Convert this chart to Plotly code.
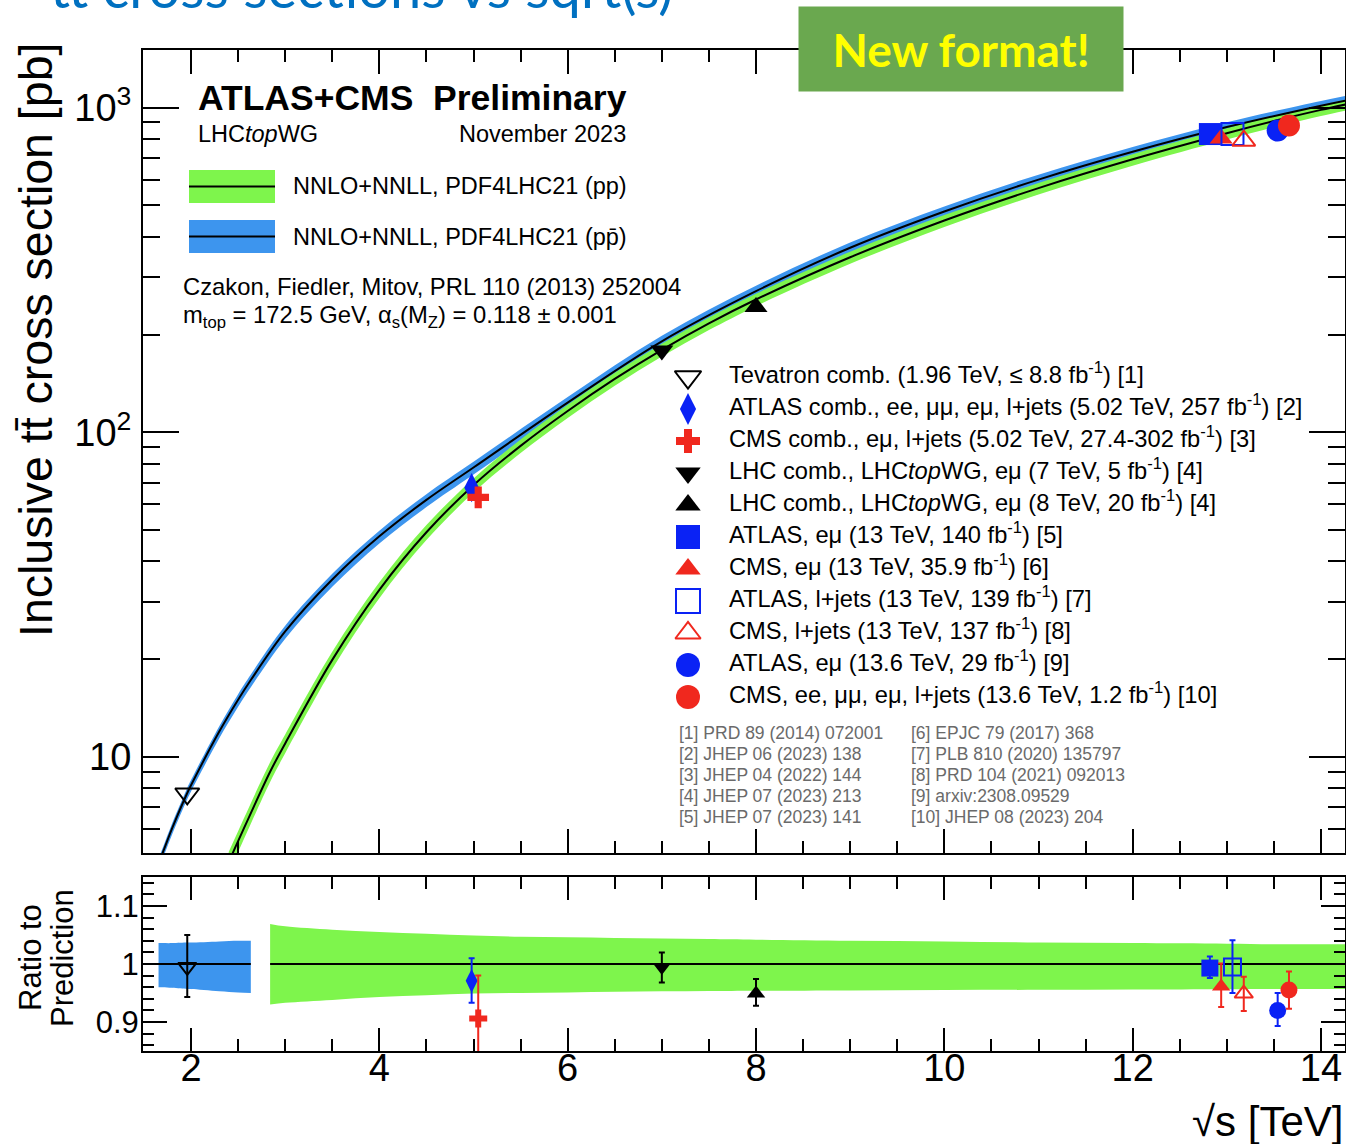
import plotly.graph_objects as go

W, H = 1346, 1144
def X(px): return px / W
def Y(py): return 1 - py / H

FONT = "Liberation Sans, Arial, Helvetica, sans-serif"
GREEN = "#7ef54c"
BLUE_BAND = "#3d95ee"
BLUE = "#0a22f5"
RED = "#f0281e"
BLACK = "#000000"

# ---------------- theory (NNLO+NNLL) ----------------
pp_sqrts = [2.4, 2.5, 2.84, 3.0, 3.5, 4.0, 4.5, 5.0, 5.5, 6.0, 6.5, 7.0, 7.5, 8.0,
            9.0, 10.0, 11.0, 12.0, 13.0, 13.6, 14.0, 14.3]
pp_sigma = [4.74, 5.5, 9.0, 11.0, 19.9, 32.7, 49.2, 68.7, 90.8, 116.3, 146.0, 179.5,
            216.5, 256.4, 346, 449, 565, 693, 834, 924, 984, 1028]
pp_rel_up = [1.075, 1.073, 1.069, 1.065, 1.059, 1.055, 1.052, 1.049, 1.047, 1.046, 1.045,
             1.044, 1.043, 1.042, 1.040, 1.039, 1.037, 1.036, 1.035, 1.034, 1.034, 1.034]
pp_rel_dn = [0.922, 0.925, 0.930, 0.933, 0.938, 0.943, 0.946, 0.949, 0.950, 0.951, 0.952,
             0.953, 0.9535, 0.954, 0.9545, 0.955, 0.9555, 0.956, 0.9565, 0.957, 0.957, 0.957]

ppbar_sqrts = [1.655, 1.7, 1.8, 1.96, 2.0, 2.3, 2.5, 2.635, 3.0, 3.5, 4.0, 4.5, 5.0, 6.0,
               7.0, 8.0, 9.0, 10.0, 11.0, 12.0, 13.0, 14.0, 14.3]
ppbar_sigma = [4.70, 5.07, 6.03, 7.74, 8.18, 11.97, 15.0, 17.25, 24.35, 35.2, 47.8, 61.9, 77.9,
               123.4, 190.6, 272, 370, 478.6, 600, 731, 871, 1014, 1057]
ppbar_rel_up = [1.036, 1.036, 1.036, 1.037, 1.037, 1.039, 1.040, 1.040, 1.041, 1.041, 1.041,
                1.041, 1.041, 1.040, 1.040, 1.039, 1.038, 1.037, 1.036, 1.035, 1.035, 1.034, 1.034]
ppbar_rel_dn = [0.960, 0.960, 0.959, 0.957, 0.957, 0.953, 0.951, 0.950, 0.949, 0.949, 0.950,
                0.950, 0.951, 0.952, 0.953, 0.954, 0.955, 0.955, 0.956, 0.956, 0.957, 0.957, 0.957]
ppbar_ratio_xmax = 2.635   # pp-bar band shown in ratio panel up to here
pp_ratio_xmin = 2.84       # pp band shown in ratio panel from here

# ---------------- measurements ----------------
meas_labels = [
    "Tevatron comb. (1.96 TeV, \u2264 8.8 fb<sup>-1</sup>) [1]",
    "ATLAS comb., ee, \u03bc\u03bc, e\u03bc, l+jets (5.02 TeV, 257 fb<sup>-1</sup>) [2]",
    "CMS comb., e\u03bc, l+jets (5.02 TeV, 27.4-302 fb<sup>-1</sup>) [3]",
    "LHC comb., LHC<i>top</i>WG, e\u03bc (7 TeV, 5 fb<sup>-1</sup>) [4]",
    "LHC comb., LHC<i>top</i>WG, e\u03bc (8 TeV, 20 fb<sup>-1</sup>) [4]",
    "ATLAS, e\u03bc (13 TeV, 140 fb<sup>-1</sup>) [5]",
    "CMS, e\u03bc (13 TeV, 35.9 fb<sup>-1</sup>) [6]",
    "ATLAS, l+jets (13 TeV, 139 fb<sup>-1</sup>) [7]",
    "CMS, l+jets (13 TeV, 137 fb<sup>-1</sup>) [8]",
    "ATLAS, e\u03bc (13.6 TeV, 29 fb<sup>-1</sup>) [9]",
    "CMS, ee, \u03bc\u03bc, e\u03bc, l+jets (13.6 TeV, 1.2 fb<sup>-1</sup>) [10]",
]
meas_sqrts = [1.96, 4.98, 5.05, 7.0, 8.0, 12.82, 12.94, 13.06, 13.18, 13.54, 13.66]
meas_sigma = [7.7, 67.5, 63.0, 178.5, 243.3, 829, 803, 830, 791, 850, 881]
meas_ratio = [0.995, 0.971, 0.906, 0.995, 0.949, 0.993, 0.961, 0.995, 0.949, 0.920, 0.955]
meas_ratio_err_up = [0.055, 0.039, 0.074, 0.025, 0.025, 0.020, 0.040, 0.046, 0.029, 0.030, 0.032]
meas_ratio_err_dn = [0.052, 0.038, 0.074, 0.027, 0.021, 0.017, 0.035, 0.045, 0.030, 0.027, 0.032]

refs_left = ["[1] PRD 89 (2014) 072001", "[2] JHEP 06 (2023) 138", "[3] JHEP 04 (2022) 144",
             "[4] JHEP 07 (2023) 213", "[5] JHEP 07 (2023) 141"]
refs_right = ["[6] EPJC 79 (2017) 368", "[7] PLB 810 (2020) 135797", "[8] PRD 104 (2021) 092013",
              "[9] arxiv:2308.09529", "[10] JHEP 08 (2023) 204"]

# ---------------- styles ----------------
m_symbol = ["triangle-down-open", "diamond-tall", "cross", "triangle-down", "triangle-up",
            "square", "triangle-up", "square-open", "triangle-up-open", "circle", "circle"]
m_color = [BLACK, BLUE, RED, BLACK, BLACK, BLUE, RED, BLUE, RED, BLUE, RED]
m_size_main = [21, 21, 18, 20, 20, 22, 20, 22, 20, 22, 22]
m_size_ratio = [16, 17, 15, 16, 16, 17, 16, 17, 16, 17, 17]

fig = go.Figure()
SPL = dict(shape="spline", smoothing=1.0)

def band(xs, lo, hi, color, xa, ya):
    fig.add_trace(go.Scatter(x=xs, y=lo, mode="lines", line=dict(width=0, color=color, **SPL),
                             showlegend=False, hoverinfo="skip", xaxis=xa, yaxis=ya))
    fig.add_trace(go.Scatter(x=xs, y=hi, mode="lines", line=dict(width=0, color=color, **SPL),
                             fill="tonexty", fillcolor=color, showlegend=False,
                             hoverinfo="skip", xaxis=xa, yaxis=ya))

# main panel bands
band(ppbar_sqrts, [s * d for s, d in zip(ppbar_sigma, ppbar_rel_dn)],
     [s * u for s, u in zip(ppbar_sigma, ppbar_rel_up)], BLUE_BAND, "x", "y")
band(pp_sqrts, [s * d for s, d in zip(pp_sigma, pp_rel_dn)],
     [s * u for s, u in zip(pp_sigma, pp_rel_up)], GREEN, "x", "y")
for xs, ys in [(ppbar_sqrts, ppbar_sigma), (pp_sqrts, pp_sigma)]:
    fig.add_trace(go.Scatter(x=xs, y=ys, mode="lines", line=dict(color=BLACK, width=2, **SPL),
                             showlegend=False, hoverinfo="skip", xaxis="x", yaxis="y"))

# ratio panel bands
idx_b = [i for i, x in enumerate(ppbar_sqrts) if x <= ppbar_ratio_xmax]
idx_g = [i for i, x in enumerate(pp_sqrts) if x >= pp_ratio_xmin]
band([ppbar_sqrts[i] for i in idx_b], [ppbar_rel_dn[i] for i in idx_b],
     [ppbar_rel_up[i] for i in idx_b], BLUE_BAND, "x2", "y2")
band([pp_sqrts[i] for i in idx_g], [pp_rel_dn[i] for i in idx_g],
     [pp_rel_up[i] for i in idx_g], GREEN, "x2", "y2")
for idx, xs, sig in [(idx_b, ppbar_sqrts, ppbar_sigma), (idx_g, pp_sqrts, pp_sigma)]:
    fig.add_trace(go.Scatter(x=[xs[i] for i in idx], y=[sig[i] / sig[i] for i in idx],
                             mode="lines", line=dict(color=BLACK, width=2),
                             showlegend=False, hoverinfo="skip", xaxis="x2", yaxis="y2"))

# measurements
for i in range(len(meas_labels)):
    open_sym = m_symbol[i].endswith("-open")
    fig.add_trace(go.Scatter(
        x=[meas_sqrts[i]], y=[meas_sigma[i]], mode="markers",
        marker=dict(symbol=m_symbol[i], size=m_size_main[i], color=m_color[i], opacity=1,
                    line=dict(width=2 if open_sym else 0, color=m_color[i])),
        showlegend=False, xaxis="x", yaxis="y", cliponaxis=False))
    fig.add_trace(go.Scatter(
        x=[meas_sqrts[i]], y=[meas_ratio[i]], mode="markers",
        marker=dict(symbol=m_symbol[i], size=m_size_ratio[i], color=m_color[i], opacity=1,
                    line=dict(width=2 if open_sym else 0, color=m_color[i])),
        error_y=dict(type="data", symmetric=False, array=[meas_ratio_err_up[i]],
                     arrayminus=[meas_ratio_err_dn[i]], color=m_color[i], thickness=2, width=3),
        showlegend=False, xaxis="x2", yaxis="y2"))

# legend for measurements (hidden axes)
rows = list(range(len(meas_labels)))
fig.add_trace(go.Scatter(
    x=[0] * len(rows), y=rows, mode="markers",
    marker=dict(symbol=m_symbol, size=[s + 2 for s in m_size_main], color=m_color, opacity=1,
                line=dict(width=[2 if s.endswith("-open") else 0 for s in m_symbol], color=m_color)),
    showlegend=False, hoverinfo="skip", xaxis="x3", yaxis="y3", cliponaxis=False))
fig.add_trace(go.Scatter(
    x=[1] * len(rows), y=rows, mode="text", text=meas_labels, textposition="middle right",
    textfont=dict(family=FONT, size=23.7, color=BLACK),
    showlegend=False, hoverinfo="skip", xaxis="x3", yaxis="y3", cliponaxis=False))

axis_common = dict(showline=True, linewidth=2, linecolor=BLACK, mirror="allticks",
                   ticks="inside", tickwidth=2, tickcolor=BLACK, showgrid=False, zeroline=False)

fig.update_layout(
    width=W, height=H, autosize=False,
    margin=dict(l=0, r=0, t=0, b=0),
    paper_bgcolor="white", plot_bgcolor="rgba(0,0,0,0)",
    font=dict(family=FONT, color=BLACK),
    showlegend=False,
    xaxis=dict(domain=[X(143), X(1345)], range=[1.49, 14.255], anchor="y",
               dtick=2, tick0=0, ticklen=24, showticklabels=False,
               minor=dict(dtick=0.5, tick0=0, ticklen=12, tickwidth=2, ticks="inside",
                          tickcolor=BLACK, showgrid=False),
               **axis_common),
    yaxis=dict(domain=[Y(853), Y(49.5)], type="log", range=[0.704, 3.179], anchor="x",
               tickmode="array", tickvals=[10, 100, 1000],
               ticktext=["10", "10<sup>2</sup>", "10<sup>3</sup>"],
               tickfont=dict(size=38), ticklen=36, ticklabelstandoff=2,
               minor=dict(tickmode="array",
                          tickvals=[6, 7, 8, 9, 20, 30, 40, 50, 60, 70, 80, 90,
                                    200, 300, 400, 500, 600, 700, 800, 900],
                          ticklen=17, tickwidth=2, ticks="inside", tickcolor=BLACK, showgrid=False),
               **axis_common),
    xaxis2=dict(domain=[X(143), X(1345)], range=[1.49, 14.255], anchor="y2", matches="x",
                dtick=2, tick0=0, ticklen=23, tickfont=dict(size=38), ticklabelstandoff=-18,
                minor=dict(dtick=0.5, tick0=0, ticklen=12, tickwidth=2, ticks="inside",
                           tickcolor=BLACK, showgrid=False),
                **axis_common),
    yaxis2=dict(domain=[Y(1051), Y(877)], range=[0.85, 1.15], anchor="x2",
                tickmode="array", tickvals=[0.9, 1.0, 1.1], ticktext=["0.9", "1", "1.1"],
                tickfont=dict(size=31), ticklen=24, ticklabelstandoff=-4,
                minor=dict(dtick=0.02, tick0=0, ticklen=11, tickwidth=2, ticks="inside",
                           tickcolor=BLACK, showgrid=False),
                **axis_common),
    xaxis3=dict(domain=[X(688), X(729)], range=[0, 1], anchor="y3", visible=False, fixedrange=True),
    yaxis3=dict(domain=[Y(713), Y(361)], range=[10.5, -0.5], anchor="x3", visible=False, fixedrange=True),
)

shapes = []
for (y0, y1, col) in [(170, 203, GREEN), (220, 253, BLUE_BAND)]:
    shapes.append(dict(type="rect", xref="paper", yref="paper", x0=X(189), x1=X(275),
                       y0=Y(y1), y1=Y(y0), fillcolor=col, line=dict(width=0), layer="above"))
    shapes.append(dict(type="line", xref="paper", yref="paper", x0=X(189), x1=X(275),
                       y0=Y((y0 + y1) / 2), y1=Y((y0 + y1) / 2),
                       line=dict(color=BLACK, width=2), layer="above"))
fig.update_layout(shapes=shapes)

ann = []
def text(px, py, s, size, xanchor="left", color=BLACK, family=FONT, angle=0, yanchor="middle"):
    ann.append(dict(x=X(px), y=Y(py), xref="paper", yref="paper", text=s, showarrow=False,
                    xanchor=xanchor, yanchor=yanchor, textangle=angle,
                    font=dict(family=family, size=size, color=color)))

text(196, 98, "<b>ATLAS+CMS\u00a0\u00a0Preliminary</b>", 35.5)
text(196, 134, "LHC<i>top</i>WG", 23.5)
text(628, 134, "November 2023", 23.5, xanchor="right")
text(291, 186, "NNLO+NNLL, PDF4LHC21 (pp)", 23.5)
text(291, 237, "NNLO+NNLL, PDF4LHC21 (pp\u0304)", 23.5)
text(181, 286, "Czakon, Fiedler, Mitov, PRL 110 (2013) 252004", 23.8)
text(181, 316, "m<sub>top</sub> = 172.5 GeV, \u03b1<sub>s</sub>(M<sub>Z</sub>) = 0.118 \u00b1 0.001", 23.8)
for k, s in enumerate(refs_left):
    text(677, 733 + 21 * k, s, 17.5, color="#6a6a6a")
for k, s in enumerate(refs_right):
    text(909, 733 + 21 * k, s, 17.5, color="#6a6a6a")
text(36, 340, "Inclusive tt\u0304 cross section [pb]", 46.5, xanchor="center", angle=-90)
text(30, 958, "Ratio to", 31, xanchor="center", angle=-90)
text(62, 958, "Prediction", 31, xanchor="center", angle=-90)
text(1345, 1121, "\u221as [TeV]", 42, xanchor="right")
text(48, 22, "tt\u0304 cross sections vs sqrt(s)", 56, color="#0070c0",
     family="Lato, Open Sans, sans-serif", yanchor="bottom")
ann.append(dict(x=X(961), y=Y(49), xref="paper", yref="paper", text="<b>New format!</b>",
                showarrow=False, xanchor="center", yanchor="middle", width=322, height=82,
                bgcolor="#6aa84f", borderpad=1,
                font=dict(family="Lato, Open Sans, sans-serif", size=46, color="#ffff00")))
fig.update_layout(annotations=ann)

fig.write_html("out.html")
